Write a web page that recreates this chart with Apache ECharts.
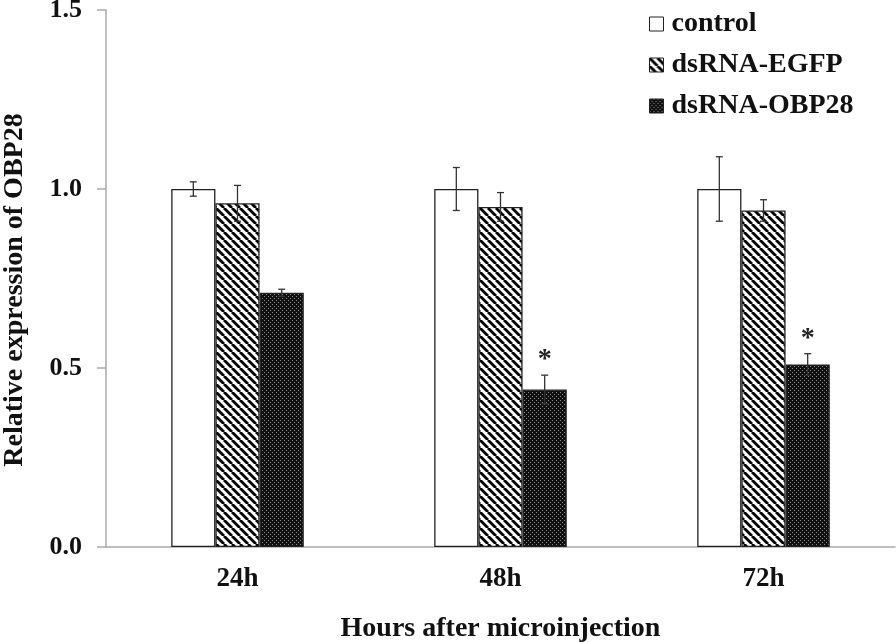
<!DOCTYPE html>
<html>
<head>
<meta charset="utf-8">
<script src="https://cdn.jsdelivr.net/npm/echarts@6/dist/echarts.min.js"></script>
<style>html,body{margin:0;padding:0;background:#fff}#c{width:896px;height:642px}</style>
</head>
<body>
<div id="c"></div>
<script>
var categories = ['24h', '48h', '72h'];
var seriesNames = ['control', 'dsRNA-EGFP', 'dsRNA-OBP28'];
var controlValues = [1.00, 1.00, 1.00];
var controlErrors = [0.02, 0.06, 0.09];
var egfpValues = [0.96, 0.95, 0.94];
var egfpErrors = [0.05, 0.04, 0.03];
var obpValues = [0.71, 0.44, 0.51];
var obpErrors = [0.01, 0.04, 0.03];
var obpSignificance = ['', '*', '*'];
var yTicks = [0, 0.5, 1.0, 1.5];

var FONT = '"Liberation Serif", "Times New Roman", serif';

function stripeCanvas() {
  var c = document.createElement('canvas');
  c.width = 8; c.height = 8;
  var g = c.getContext('2d');
  g.fillStyle = '#fff'; g.fillRect(0, 0, 8, 8);
  g.strokeStyle = '#000'; g.lineWidth = 2.8;
  [-8, 0, 8].forEach(function (x0) {
    g.beginPath(); g.moveTo(x0, 0); g.lineTo(x0 + 8, 8); g.stroke();
  });
  return c;
}
function dotCanvas() {
  var c = document.createElement('canvas');
  c.width = 4; c.height = 4;
  var g = c.getContext('2d');
  g.fillStyle = '#111'; g.fillRect(0, 0, 4, 4);
  g.fillStyle = '#8a8a8a';
  g.fillRect(0, 0, 1, 1); g.fillRect(2, 2, 1, 1);
  return c;
}

var BAR_RATIO = 0.168;
var valuesList = [controlValues, egfpValues, obpValues];
var errorsList = [controlErrors, egfpErrors, obpErrors];
var fills = ['#ffffff', {image: stripeCanvas(), repeat: 'repeat'}, {image: dotCanvas(), repeat: 'repeat'}];

var errData = [];
for (var s = 0; s < 3; s++) {
  for (var i = 0; i < categories.length; i++) {
    errData.push([i, valuesList[s][i], errorsList[s][i], s, s === 2 ? obpSignificance[i] : '']);
  }
}

var chart = echarts.init(document.getElementById('c'), null, {renderer: 'canvas'});
var series = seriesNames.map(function (name, s) {
  return {
    name: name,
    type: 'bar',
    data: valuesList[s],
    barWidth: (BAR_RATIO * 100) + '%',
    barGap: '0%',
    itemStyle: {color: fills[s], borderColor: '#222', borderWidth: 1.3},
    z: 2
  };
});
series.push({
  type: 'custom',
  name: 'err',
  data: errData,
  z: 5,
  silent: true,
  encode: {x: 0, y: 1},
  renderItem: function (params, api) {
    var ci = api.value(0), v = api.value(1), e = api.value(2), s = api.value(3);
    var band = api.size([1, 0])[0];
    var off = (s - 1) * band * BAR_RATIO;
    var top = api.coord([ci, v + e]);
    var bot = api.coord([ci, v - e]);
    var x = top[0] + off;
    var cap = 3.5;
    var st = {stroke: '#333', lineWidth: 1.3};
    var children = [
      {type: 'line', shape: {x1: x, y1: top[1], x2: x, y2: bot[1]}, style: st},
      {type: 'line', shape: {x1: x - cap, y1: top[1], x2: x + cap, y2: top[1]}, style: st},
      {type: 'line', shape: {x1: x - cap, y1: bot[1], x2: x + cap, y2: bot[1]}, style: st}
    ];
    var sig = api.value(4);
    if (sig) {
      children.push({type: 'text', x: x, y: top[1] - 1, style: {
        text: sig, font: 'bold 28px ' + FONT, fill: '#222', align: 'center', verticalAlign: 'bottom'
      }});
    }
    return {type: 'group', children: children};
  }
});

chart.setOption({
  animation: false,
  backgroundColor: '#fff',
  grid: {left: 106, right: 1, top: 10, bottom: 95, containLabel: false, outerBoundsMode: 'none'},
  legend: {
    data: seriesNames,
    orient: 'vertical',
    left: 644,
    top: 5,
    itemWidth: 14,
    itemHeight: 14,
    itemGap: 13,
    icon: 'rect',
    textStyle: {fontFamily: FONT, fontWeight: 'bold', fontSize: 28, color: '#111', padding: [0, 0, 0, 3]},
    itemStyle: {borderColor: '#222', borderWidth: 1}
  },
  xAxis: {
    type: 'category',
    data: categories,
    name: 'Hours after microinjection',
    nameLocation: 'middle',
    nameGap: 68,
    nameTextStyle: {fontFamily: FONT, fontWeight: 'bold', fontSize: 28, color: '#111'},
    axisLine: {lineStyle: {color: '#aaa', width: 1.5}},
    axisTick: {show: false},
    axisLabel: {fontFamily: FONT, fontWeight: 'bold', fontSize: 27, color: '#111', margin: 19}
  },
  yAxis: {
    type: 'value',
    min: 0, max: 1.5, interval: 0.5,
    axisLine: {show: true, lineStyle: {color: '#aaa', width: 1.5}},
    axisTick: {show: true, length: 9, lineStyle: {color: '#aaa', width: 1.5}},
    splitLine: {show: false},
    axisLabel: {
      fontFamily: FONT, fontWeight: 'bold', fontSize: 26, color: '#111', margin: 24,
      formatter: function (v) { return yTicks.indexOf(v) >= 0 ? v.toFixed(1) : ''; }
    }
  },
  graphic: [{
    type: 'text',
    x: 15, y: 290,
    rotation: Math.PI / 2,
    style: {
      text: 'Relative expression of OBP28',
      font: 'bold 28px ' + FONT,
      fill: '#111',
      align: 'center',
      verticalAlign: 'middle'
    }
  }],
  series: series
});
</script>
</body>
</html>
